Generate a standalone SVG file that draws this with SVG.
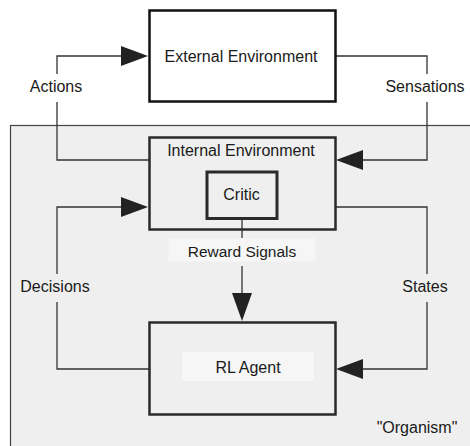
<svg xmlns="http://www.w3.org/2000/svg" width="470" height="446" viewBox="0 0 470 446">
<style>
text{font-family:"Liberation Sans",Arial,Helvetica,sans-serif;font-size:16px;fill:#1a1a1a;text-anchor:middle}
.box{fill:none;stroke:#2a2a2a;stroke-width:2.5}
.ln{fill:none;stroke:#333;stroke-width:1.3}
.ah{fill:#222}
.lbg{fill:#f6f6f6}
</style>
<rect width="470" height="446" fill="#fff"/>
<g id="organism">
<rect x="10.5" y="125.5" width="470" height="330" fill="#efefef" stroke="#444" stroke-width="1.2"/>
<text x="417" y="433">"Organism"</text>
</g>
<g id="connectors">
<!-- Actions -->
<polyline class="ln" points="149,160 57,160 57,102"/>
<polyline class="ln" points="57,74 57,56 122,56"/>
<polygon class="ah" points="121,46 148,56 121,66"/>
<text x="56" y="92">Actions</text>
<!-- Sensations -->
<polyline class="ln" points="336,56 427,56 427,74"/>
<polyline class="ln" points="427,102 427,160 362,160"/>
<polygon class="ah" points="363,150 336,160 363,170"/>
<text x="425" y="92">Sensations</text>
<!-- Decisions -->
<polyline class="ln" points="149,369 57,369 57,302"/>
<polyline class="ln" points="57,274 57,207 122,207"/>
<polygon class="ah" points="121,197 148,207 121,217"/>
<text x="55" y="292">Decisions</text>
<!-- States -->
<polyline class="ln" points="336,207 427,207 427,274"/>
<polyline class="ln" points="427,302 427,369 362,369"/>
<polygon class="ah" points="363,359 336,369 363,379"/>
<text x="425" y="292">States</text>
<!-- Reward -->
<line class="ln" x1="242" y1="219" x2="242" y2="238"/>
<line class="ln" x1="242" y1="266" x2="242" y2="295"/>
<polygon class="ah" points="232,293 252,293 242,321"/>
<rect class="lbg" x="168.5" y="238.5" width="147" height="23"/>
<text x="242" y="257" style="font-size:15.5px">Reward Signals</text>
</g>
<g id="external">
<rect x="149.5" y="10.5" width="186" height="91" fill="#fff" stroke="#111" stroke-width="2.5"/>
<text x="241" y="62">External Environment</text>
</g>
<g id="internal">
<rect class="box" x="149.5" y="137.5" width="186" height="92"/>
<text x="241" y="155.5">Internal Environment</text>
</g>
<g id="critic">
<rect x="207" y="172" width="70" height="46.5" fill="none" stroke="#2a2a2a" stroke-width="3"/>
<text x="241.5" y="200">Critic</text>
</g>
<g id="agent">
<rect class="box" x="149.5" y="322.5" width="186" height="92"/>
<rect class="lbg" x="182" y="352" width="132" height="29"/>
<text x="248" y="373">RL Agent</text>
</g>
</svg>
